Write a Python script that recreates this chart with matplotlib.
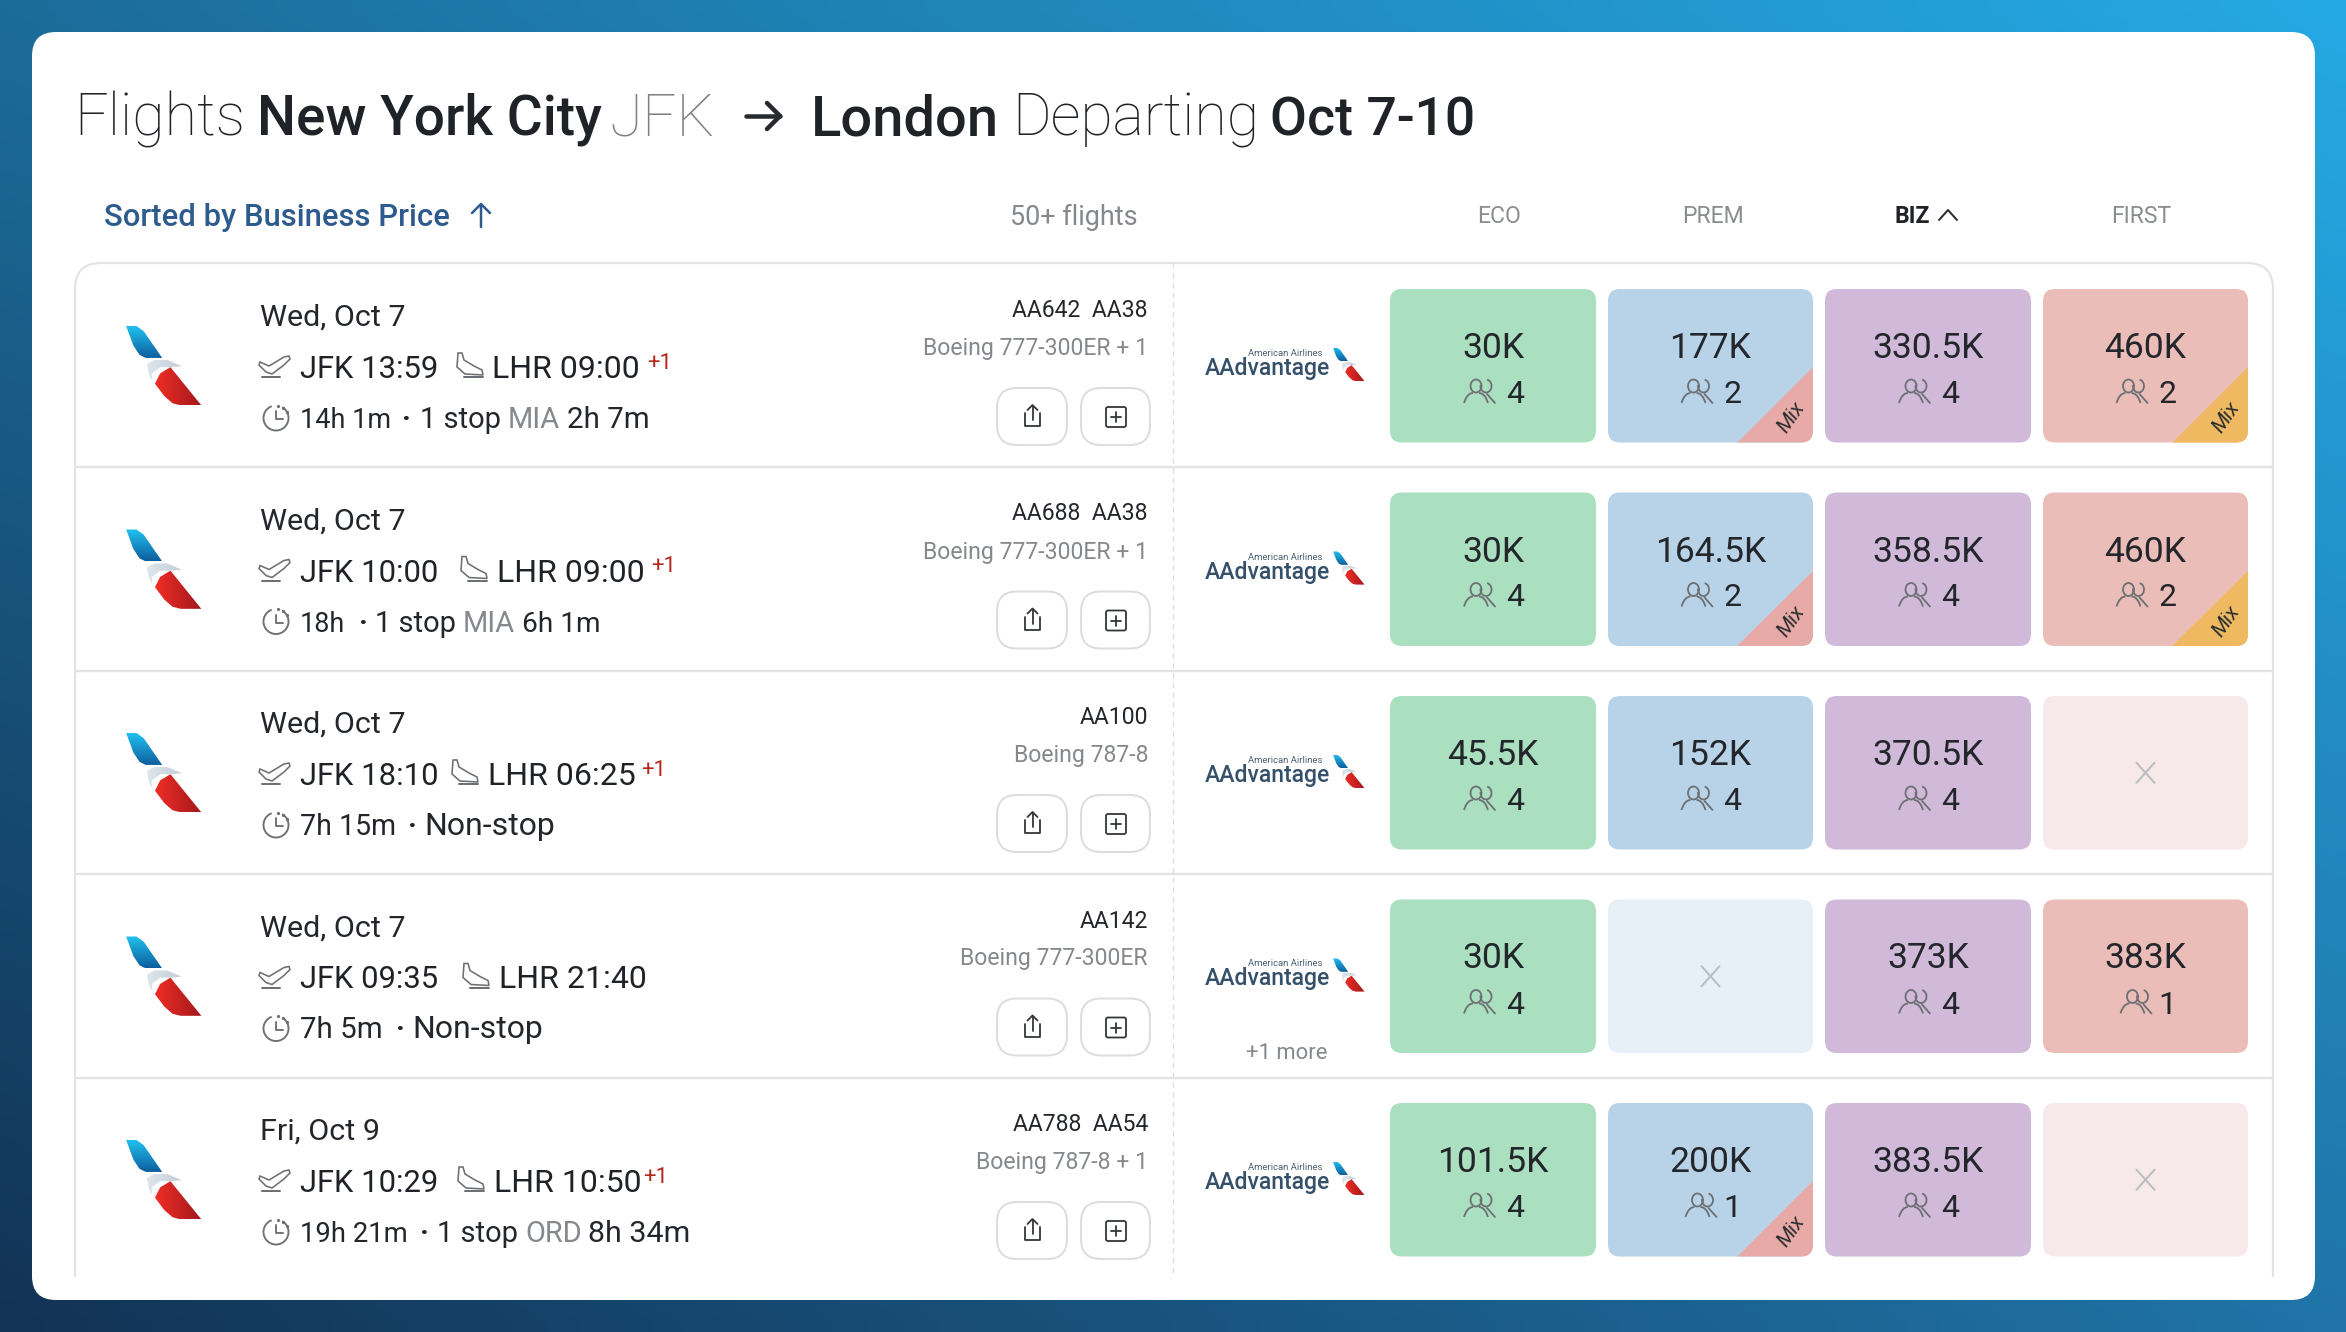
import numpy as np
import matplotlib
matplotlib.use("Agg")
import matplotlib.pyplot as plt
from matplotlib.patches import FancyBboxPatch, Polygon, Ellipse, Arc, PathPatch
from matplotlib.path import Path
from matplotlib.colors import LinearSegmentedColormap

# ---------- data ----------
dates = ["Wed, Oct 7", "Wed, Oct 7", "Wed, Oct 7", "Wed, Oct 7", "Fri, Oct 9"]
departures = ["JFK 13:59", "JFK 10:00", "JFK 18:10", "JFK 09:35", "JFK 10:29"]
arrivals = ["LHR 09:00", "LHR 09:00", "LHR 06:25", "LHR 21:40", "LHR 10:50"]
next_day = ["+1", "+1", "+1", "", "+1"]
durations = ["14h 1m", "18h", "7h 15m", "7h 5m", "19h 21m"]
stops = ["1 stop", "1 stop", "Non-stop", "Non-stop", "1 stop"]
stop_airports = ["MIA", "MIA", "", "", "ORD"]
layovers = ["2h 7m", "6h 1m", "", "", "8h 34m"]
flight_numbers = ["AA642  AA38", "AA688  AA38", "AA100", "AA142", "AA788  AA54"]
aircraft = ["Boeing 777-300ER + 1", "Boeing 777-300ER + 1", "Boeing 787-8", "Boeing 777-300ER", "Boeing 787-8 + 1"]
cabins = ["ECO", "PREM", "BIZ", "FIRST"]
prices = [
    ["30K", "177K", "330.5K", "460K"],
    ["30K", "164.5K", "358.5K", "460K"],
    ["45.5K", "152K", "370.5K", ""],
    ["30K", "", "373K", "383K"],
    ["101.5K", "200K", "383.5K", ""],
]
seats = [
    ["4", "2", "4", "2"],
    ["4", "2", "4", "2"],
    ["4", "4", "4", ""],
    ["4", "", "4", "1"],
    ["4", "1", "4", ""],
]
mixed = [
    [False, True, False, True],
    [False, True, False, True],
    [False, False, False, False],
    [False, False, False, False],
    [False, True, False, False],
]

# ---------- layout (pixels) ----------
W, H = 2346, 1332
ROW = 203.5
arr_icon_x = [456, 460, 451, 462, 457]
arr_x = [492, 497, 488, 499, 494]
plus_x = [647, 651, 641, 0, 643]
dot_x = [402, 359, 408, 396, 420]
stop_x = [420, 375, 424, 412, 437]
apt_x = [508, 463, 0, 0, 525]
lay_x = [567, 522, 0, 0, 588]
dur_size = [27, 27, 28.5, 29.5, 27.5]
stop_size = [29, 29, 32, 32, 29]
lay_size = [29.5, 28, 0, 0, 30.5]
cell_x = [(1390, 1596), (1608, 1813), (1825, 2031), (2043, 2248)]
hdr_x = [1499, 1713, 1894, 2141]

FONT = "Roboto"
INK = "#23262b"
GREY = "#85888c"
cell_col = ["#aadfc0", "#b8d3e8", "#d1b9da", "#ebbdb9"]
empty_col = ["#e8f5ee", "#e8f0f7", "#f1e9f5", "#f7e9ea"]
mix_col = ["#e8aaa6", "#e8aaa6", "#e8aaa6", "#efb962"]

fig = plt.figure(figsize=(W / 100, H / 100), dpi=100)
ax = fig.add_axes([0, 0, 1, 1])
ax.axis("off")


def px(v):
    return v * 0.72


def T(x, y, s, size, color=INK, weight="regular", ha="left", va="baseline", **kw):
    return ax.text(x, y, s, fontsize=px(size), color=color, fontweight=weight, ha=ha, va=va,
                   family=[FONT, "DejaVu Sans"], **kw)


def L(xs, ys, lw=2, color=INK, **kw):
    kw.setdefault("solid_capstyle", "round")
    ax.plot(xs, ys, lw=px(lw), color=color, **kw)


def rbox(x0, y0, x1, y1, r, fc="none", ec="none", lw=0, z=2):
    p = FancyBboxPatch((x0 + r, y0 + r), x1 - x0 - 2 * r, y1 - y0 - 2 * r,
                       boxstyle=f"round,pad={r}", fc=fc, ec=ec, lw=px(lw), zorder=z)
    ax.add_patch(p)
    return p


# background gradient
tl, tr = np.array([0x1c, 0x6c, 0x9a]), np.array([0x25, 0xa9, 0xe4])
bl, br = np.array([0x12, 0x33, 0x55]), np.array([0x20, 0x74, 0xa8])
u = np.linspace(0, 1, 120)[None, :, None]
v = np.linspace(0, 1, 70)[:, None, None]
bg = (tl * (1 - u) + tr * u) * (1 - v) + (bl * (1 - u) + br * u) * v
ax.imshow(bg / 255, extent=[0, W, H, 0], aspect="auto", zorder=0, interpolation="bilinear")

# white card
rbox(32, 32, 2315, 1300, 24, fc="white", z=1)

# title
LIGHT = "#1f2227"
T(74, 135, "Flights", 59, LIGHT, "light")
T(257, 135, "New York City", 55, "#1f2227", "medium")
T(609, 135, "JFK", 60, "#7d8084", "light")
L([746, 780], [116, 116], 4.5, "#26292e")
L([767, 780, 767], [103, 116, 129], 4.5, "#26292e")
T(811, 135, "London", 56, "#1f2227", "medium")
T(1012, 135, "Departing", 59, LIGHT, "light")
T(1270, 135, "Oct 7-10", 53.5, "#1f2227", "medium")

# header row
T(104, 226, "Sorted by Business Price", 31, "#2e5b8e", "medium")
L([481, 481], [205, 227], 2.5, "#2e5b8e")
L([472, 481, 490], [213, 204, 213], 2.5, "#2e5b8e")
T(1138, 225, "50+ flights", 27, GREY, ha="right")
for i, c in enumerate(cabins):
    if c == "BIZ":
        T(hdr_x[i], 223, c, 23, "#1f2227", "bold")
    else:
        T(hdr_x[i], 223, c, 23, "#8a8d90", ha="center")
L([1939, 1948, 1957], [220, 210, 220], 2, "#2a2d31")

# table frame
TOP, BOT, LFT, RGT = 263, 1277, 75, 2273
r = 26
frame = Path([(LFT, BOT), (LFT, TOP + r), (LFT, TOP), (LFT + r, TOP), (RGT - r, TOP), (RGT, TOP), (RGT, TOP + r), (RGT, BOT)],
             [Path.MOVETO, Path.LINETO, Path.CURVE3, Path.CURVE3, Path.LINETO, Path.CURVE3, Path.CURVE3, Path.LINETO])
ax.add_patch(PathPatch(frame, fc="none", ec="#e2e3e4", lw=px(2.2), zorder=2))
for i in range(1, 5):
    yy = TOP + ROW * i + 0.5
    L([LFT, RGT], [yy, yy], 2.4, "#e3e4e5", solid_capstyle="butt")
ax.plot([1173, 1173], [TOP, BOT], lw=px(1.3), color="#dcddde", ls=(0, (4, 3.5)), zorder=2)

blue_cm = LinearSegmentedColormap.from_list("b", ["#20c0ee", "#0e5f9f"])
red_cm = LinearSegmentedColormap.from_list("r", ["#ee2d26", "#a3181c"])
grey_cm = LinearSegmentedColormap.from_list("g", ["#dfe6ec", "#c2cdd6"])
BLUE = [(5, 0), (15, 0), (22, 5), (40, 31), (24, 31), (18, 28), (12, 19)]
GREY_TAIL = [(25, 37), (32, 33), (45, 33), (59, 39), (48, 40), (38, 40), (30, 46), (30, 53), (27, 47)]
RED = [(33, 56), (38, 46), (48, 40), (78, 77), (58, 77), (50, 75), (42, 68)]


def tail(x0, y0, s):
    for pts, cm, grad in ((BLUE, blue_cm, "v"), (GREY_TAIL, grey_cm, "h"), (RED, red_cm, "h")):
        pts = np.array(pts, float) * s + [x0, y0]
        poly = Polygon(pts, closed=True, fc="none", ec="none", transform=ax.transData)
        ax.add_patch(poly)
        g = np.linspace(0, 1, 32)[None, :] if grad == "h" else np.linspace(0, 1, 32)[:, None]
        e = [pts[:, 0].min(), pts[:, 0].max(), pts[:, 1].max(), pts[:, 1].min()]
        im = ax.imshow(g, cmap=cm, extent=e, aspect="auto", zorder=3)
        im.set_clip_path(poly)


def plane_up(x, y, color="#6d7074"):
    """take-off icon, origin at left of the underline"""
    pts = np.array([(0, 8), (9, 12), (24, 3), (29, 2), (30, 5), (24, 11), (12, 20), (6, 18), (-1, 11)], float)
    ax.add_patch(Polygon(pts + [x, y - 22], closed=True, fc="none", ec=color, lw=px(1.6), zorder=4))
    L([x + 2, x + 20], [y + 1, y + 1], 2, color)


def plane_down(x, y, color="#6d7074"):
    pts = np.array([(2, 0), (6, 0), (8, 7), (18, 13), (26, 17), (27, 22), (9, 21), (1, 14)], float)
    ax.add_patch(Polygon(pts + [x, y - 23], closed=True, fc="none", ec=color, lw=px(1.6), zorder=4))
    L([x + 8, x + 27], [y + 1, y + 1], 2, color)


def clock(cx, cy, color="#6d7074"):
    ax.add_patch(Arc((cx, cy), 25, 25, theta1=-60, theta2=250, angle=0, ec=color, lw=px(1.9), zorder=4))
    L([cx, cx, cx + 7], [cy - 7, cy + 1, cy + 1], 1.9, color)
    for a in (-80, -55, -30):
        ax.plot(cx + 12.5 * np.cos(np.radians(a)), cy + 12.5 * np.sin(np.radians(a)), "o", ms=1.3, color=color)


def people(cx, cy, color="#6c6f73"):
    lw = px(1.8)
    ax.add_patch(Ellipse((cx - 3, cy - 6), 11, 13, fc="none", ec=color, lw=lw, zorder=5))
    sh = Path([(cx - 15, cy + 11), (cx - 12, cy + 1), (cx - 6, cy + 1)], [Path.MOVETO, Path.CURVE3, Path.CURVE3])
    ax.add_patch(PathPatch(sh, fc="none", ec=color, lw=lw, zorder=5))
    sh = Path([(cx + 9, cy + 11), (cx + 6, cy + 1), (cx, cy + 1)], [Path.MOVETO, Path.CURVE3, Path.CURVE3])
    ax.add_patch(PathPatch(sh, fc="none", ec=color, lw=lw, zorder=5))
    ax.add_patch(Arc((cx + 7, cy - 6), 11, 13, theta1=-80, theta2=190, ec=color, lw=lw, zorder=5))
    L([cx + 8, cx + 16], [cy + 2, cy + 11], 1.8, color)


def x_mark(cx, cy):
    L([cx - 9, cx + 9], [cy - 10, cy + 10], 2, "#b9bec2")
    L([cx - 9, cx + 9], [cy + 10, cy - 10], 2, "#b9bec2")


for i in range(5):
    o = ROW * i
    tail(121, 326 + o, 1.03)
    T(260, 326 + o, dates[i], 30.5)
    plane_up(260, 376 + o)
    T(300, 378 + o, departures[i], 31, "#1f2227")
    plane_down(arr_icon_x[i], 376 + o)
    T(arr_x[i], 378 + o, arrivals[i], 32, "#1f2227")
    if next_day[i]:
        T(plus_x[i], 369 + o, next_day[i], 22, "#b5281c")
    clock(276, 418 + o)
    T(300, 428 + o, durations[i], dur_size[i])
    T(dot_x[i], 428 + o, "·", 30, "#1f2227", "bold")
    T(stop_x[i], 428 + o, stops[i], stop_size[i])
    if stop_airports[i]:
        T(apt_x[i], 428 + o, stop_airports[i], 29, GREY)
        T(lay_x[i], 428 + o, layovers[i], lay_size[i])
    T(1148, 317 + o, flight_numbers[i], 23, ha="right")
    T(1148, 355 + o, aircraft[i], 23, GREY, ha="right")

    # action buttons
    rbox(997, 388 + o, 1067, 445 + o, 20, fc="white", ec="#dcddde", lw=2)
    rbox(1081, 388 + o, 1150, 445 + o, 20, fc="white", ec="#dcddde", lw=2)
    L([1025, 1025, 1040, 1040], [413 + o, 426 + o, 426 + o, 413 + o], 1.8, "#33363a", zorder=4)
    L([1032.5, 1032.5], [406 + o, 420 + o], 1.8, "#33363a", zorder=4)
    L([1027.5, 1032.5, 1037.5], [410 + o, 405 + o, 410 + o], 1.8, "#33363a", zorder=4)
    rbox(1106, 407 + o, 1126, 427 + o, 2, fc="none", ec="#33363a", lw=1.8, z=4)
    L([1111, 1121], [417 + o, 417 + o], 1.8, "#33363a", zorder=4)
    L([1116, 1116], [412 + o, 422 + o], 1.8, "#33363a", zorder=4)

    # programme logo
    T(1205, 375 + o, "AAdvantage", 23, "#35506a", "medium")
    T(1285, 356 + o, "American Airlines", 9.5, "#4b5f70", ha="center")
    tail(1331, 348 + o, 0.43)

    # price cells
    for j, (x0, x1) in enumerate(cell_x):
        y0, y1 = 289 + o, 442.5 + o
        c = (x0 + x1) / 2
        if not prices[i][j]:
            rbox(x0, y0, x1, y1, 12, fc=empty_col[j], z=2)
            x_mark(c, (y0 + y1) / 2)
            continue
        box = rbox(x0, y0, x1, y1, 12, fc=cell_col[j], z=2)
        if mixed[i][j]:
            tri = Polygon([(x1, y0 + 78), (x1, y1), (x1 - 76, y1)], closed=True, fc=mix_col[j], ec="none", zorder=3)
            ax.add_patch(tri)
            tri.set_clip_path(box)
            T(x1 - 22, y1 - 25, "Mix", 21, "#2a2d31", ha="center", va="center", rotation=55, style="italic", zorder=5)
        T(c, 358 + o, prices[i][j], 35.5, ha="center", zorder=5)
        off = -10 if seats[i][j] == "1" else -14
        people(c + off, 392 + o)
        T(c + 22, 403 + o, seats[i][j], 32, ha="center", zorder=5)

T(1287, 1059, "+1 more", 22, GREY, ha="center")

ax.set_xlim(0, W)
ax.set_ylim(H, 0)
fig.savefig("out.png", dpi=100)
